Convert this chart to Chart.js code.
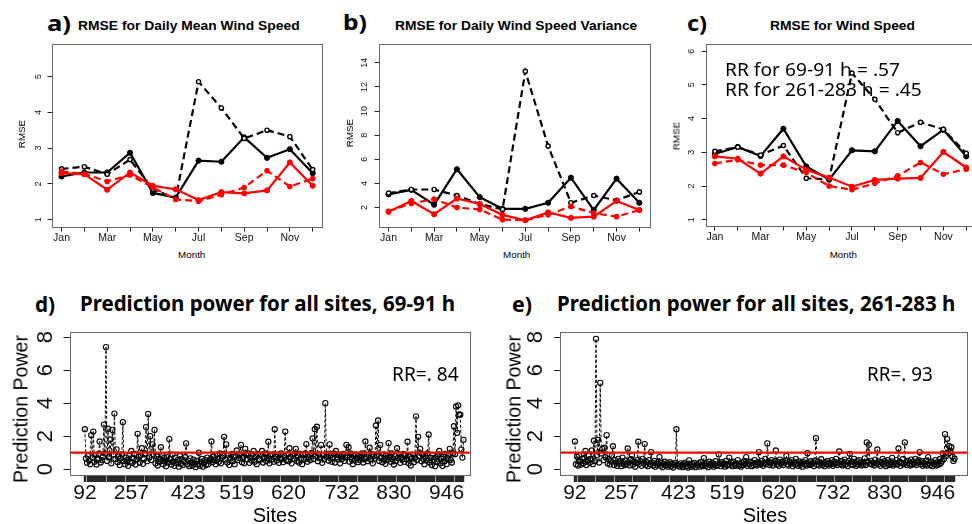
<!DOCTYPE html>
<html><head><meta charset="utf-8">
<script src="https://cdn.jsdelivr.net/npm/chart.js@4.4.1/dist/chart.umd.min.js"></script>
<style>
html,body{margin:0;padding:0;overflow:hidden;background:#fff;width:972px;height:524px;position:relative}
canvas{position:absolute}
.t{position:absolute;white-space:nowrap;line-height:1;color:#000}
</style></head><body>
<script>
// ---------------- DATA ----------------
const months = ['Jan','Feb','Mar','Apr','May','Jun','Jul','Aug','Sep','Oct','Nov','Dec'];
const monthTickLabels = ['Jan','','Mar','','May','','Jul','','Sep','','Nov',''];

// a) RMSE for Daily Mean Wind Speed
const aBlackSolid = [2.21, 2.32, 2.32, 2.87, 1.75, 1.62, 2.65, 2.62, 3.30, 2.73, 2.97, 2.30];
const aBlackDash  = [2.42, 2.48, 2.27, 2.68, 1.85, 1.60, 4.85, 4.12, 3.27, 3.50, 3.32, 2.40];
const aRedSolid   = [2.30, 2.27, 1.84, 2.32, 1.95, 1.85, 1.55, 1.77, 1.74, 1.82, 2.60, 1.95];
const aRedDash    = [2.35, 2.28, 2.07, 2.25, 1.90, 1.57, 1.52, 1.70, 1.90, 2.37, 1.93, 2.15];
const aYTicks = [1, 2, 3, 4, 5];

// b) RMSE for Daily Wind Speed Variance
const bBlackSolid = [3.10, 3.47, 2.24, 5.18, 2.87, 1.90, 1.90, 2.40, 4.48, 1.80, 4.40, 2.40];
const bBlackDash  = [3.20, 3.50, 3.50, 3.00, 2.30, 1.85, 13.30, 7.10, 2.40, 3.00, 2.60, 3.30];
const bRedSolid   = [1.65, 2.55, 1.45, 2.75, 2.30, 1.40, 0.95, 1.60, 1.15, 1.25, 2.55, 1.80];
const bRedDash    = [1.70, 2.35, 2.70, 2.00, 1.85, 1.00, 0.95, 1.40, 2.10, 1.55, 1.25, 1.80];
const bYTicks = [2, 4, 6, 8, 10, 12, 14];

// c) RMSE for Wind Speed
const cBlackSolid = [2.95, 3.16, 2.89, 3.70, 2.58, 2.19, 3.06, 3.03, 3.93, 3.18, 3.67, 2.88];
const cBlackDash  = [3.03, 3.15, 2.92, 3.20, 2.23, 2.20, 5.35, 4.57, 3.58, 3.89, 3.68, 2.97];
const cRedSolid   = [2.88, 2.81, 2.37, 2.88, 2.48, 2.25, 1.98, 2.18, 2.22, 2.24, 3.01, 2.55];
const cRedDash    = [2.67, 2.78, 2.62, 2.62, 2.40, 2.00, 1.89, 2.08, 2.30, 2.70, 2.35, 2.50];
const cYTicks = [1, 2, 3, 4, 5, 6];

// d) Prediction power for all sites, 69-91 h
const ppD = [
 2.42,0.65,0.38,0.80,0.52,0.30,2.06,0.70,2.28,0.45,0.85,0.28,0.60,0.92,1.68,0.40,0.55,0.75,2.70,0.95,
 7.40,0.50,2.45,0.72,1.80,0.35,2.38,0.88,3.37,0.62,1.20,0.42,0.78,0.25,0.66,0.90,2.85,0.48,0.30,0.70,
 0.55,0.20,0.82,0.45,1.10,0.38,0.65,0.92,0.28,0.58,2.14,0.75,0.40,0.85,1.27,0.32,0.62,0.95,2.55,0.48,
 3.35,0.70,2.00,0.55,1.50,0.90,2.38,0.35,0.78,0.22,0.60,0.45,1.33,0.85,0.30,0.68,0.50,0.18,0.72,0.40,
 1.82,0.62,0.28,0.88,0.45,0.20,0.70,0.38,0.55,0.15,0.80,0.32,0.60,0.25,0.48,0.72,1.56,0.30,0.52,0.18,
 0.65,0.40,0.22,0.58,0.35,0.12,0.50,0.28,1.00,0.20,0.45,0.62,0.15,0.38,0.55,0.25,0.70,0.30,0.48,0.60,
 1.68,0.42,0.75,0.55,0.30,0.88,0.62,0.45,0.95,0.35,0.70,0.80,1.96,0.58,1.50,0.40,0.85,0.25,0.65,0.92,
 0.48,0.75,0.30,0.82,1.13,0.55,0.68,0.90,1.47,0.42,0.72,0.35,1.23,0.85,0.60,0.95,0.38,0.70,0.52,0.88,
 1.10,0.45,0.78,0.30,0.92,0.62,0.55,0.85,1.10,0.40,0.72,0.95,0.50,0.68,1.66,0.35,0.80,0.58,0.90,0.45,
 2.42,0.75,0.52,0.88,0.38,0.70,0.95,0.60,0.42,0.82,2.28,0.55,0.90,0.48,1.27,0.72,0.35,0.85,0.62,0.95,
 1.23,0.50,0.78,0.40,0.92,0.65,0.30,0.85,0.58,0.95,1.52,0.45,0.72,0.88,0.55,0.98,1.86,0.62,2.42,0.80,
 2.57,0.48,0.90,0.70,1.47,0.38,0.82,0.60,4.00,0.75,0.92,0.52,1.50,0.85,0.45,0.68,0.95,0.40,1.10,0.72,
 0.58,0.88,0.35,0.78,0.62,0.92,0.50,0.70,1.47,0.85,1.33,0.45,0.95,0.60,0.30,0.80,0.52,0.90,0.68,0.42,
 0.85,0.55,0.75,0.95,0.40,0.62,1.68,0.72,0.48,0.88,1.30,0.58,0.92,0.35,0.78,0.65,2.65,0.80,2.95,0.50,
 1.47,0.70,0.42,0.90,0.60,0.32,0.85,0.55,1.58,0.75,0.45,0.95,0.62,0.28,0.80,0.50,1.27,0.68,0.90,0.38,
 0.72,0.58,0.92,0.45,0.82,0.60,1.66,0.35,0.75,0.22,0.65,0.88,0.42,0.70,3.20,0.55,1.96,0.80,1.23,0.48,
 0.90,0.62,0.30,0.78,0.52,0.95,2.10,0.40,0.68,0.25,0.85,0.55,0.18,0.72,0.45,0.88,1.10,0.35,0.62,0.20,
 0.75,0.48,0.92,0.30,0.65,0.82,1.23,0.55,0.40,0.95,2.60,0.90,3.80,2.20,3.87,3.30,3.30,1.20,0.70,1.78
];
// e) Prediction power for all sites, 261-283 h
const ppE = [
 1.68,0.30,0.75,0.22,0.83,0.45,0.28,0.62,0.35,0.70,1.10,0.25,0.55,0.80,0.38,0.62,1.13,0.30,1.72,0.48,
 7.90,0.85,1.78,0.40,5.23,0.95,1.23,0.55,1.30,0.72,2.06,0.35,0.60,0.28,0.48,0.82,1.39,0.25,0.55,0.38,
 0.20,0.62,0.32,0.48,0.18,0.70,0.35,0.25,0.52,0.30,1.25,0.42,0.22,0.60,0.83,0.28,0.45,0.15,0.38,0.55,
 1.66,0.32,0.48,0.20,0.62,0.35,1.52,0.25,0.42,0.18,0.55,0.30,1.03,0.40,0.22,0.50,0.15,0.35,0.28,0.45,
 0.73,0.20,0.38,0.12,0.30,0.45,0.22,0.35,0.15,0.28,0.42,0.18,0.32,0.10,0.25,0.38,2.42,0.20,0.30,0.15,
 0.35,0.22,0.12,0.28,0.40,0.18,0.30,0.10,0.53,0.25,0.15,0.32,0.20,0.38,0.12,0.28,0.22,0.35,0.15,0.42,
 0.25,0.18,0.67,0.30,0.20,0.35,0.12,0.45,0.28,0.22,0.38,0.15,0.30,0.48,0.20,0.25,0.89,0.32,0.18,0.42,
 0.28,0.35,0.15,0.50,0.22,0.30,0.70,0.25,0.38,0.18,0.45,0.28,0.20,0.35,0.55,0.22,0.30,0.15,0.40,0.25,
 0.48,0.32,0.73,0.20,0.35,0.28,0.45,0.18,0.38,0.25,0.55,0.30,0.22,0.42,1.03,0.35,0.28,0.50,0.20,0.38,
 0.62,0.30,1.56,0.45,0.25,0.40,0.55,0.22,0.35,0.48,1.13,0.28,0.42,0.20,0.58,0.32,0.45,0.25,0.38,0.50,
 0.80,0.30,0.22,0.45,0.35,0.55,0.18,0.40,0.28,0.62,0.32,0.20,0.48,0.25,0.38,0.15,0.42,0.30,0.55,0.22,
 0.97,0.35,0.25,0.48,0.30,0.40,0.18,0.52,1.88,0.28,0.45,0.22,0.38,0.60,0.25,0.35,0.18,0.42,0.30,0.50,
 0.22,0.38,0.28,0.55,0.20,0.45,0.32,0.62,0.25,0.40,1.07,0.30,0.48,0.22,0.35,0.58,0.28,0.42,0.18,0.50,
 0.93,0.30,0.45,0.25,0.62,0.35,0.20,0.48,0.28,0.55,0.38,0.22,0.42,0.30,0.65,0.25,1.62,0.45,1.48,0.32,
 0.50,0.28,0.40,0.22,0.58,0.35,1.19,0.30,0.45,0.20,0.38,0.62,0.28,0.48,0.18,0.35,0.55,0.25,0.42,0.30,
 0.68,0.22,0.40,0.32,0.55,0.28,1.25,0.45,0.20,0.38,0.60,0.30,1.62,0.42,0.25,0.50,0.35,0.22,0.58,0.28,
 0.45,0.32,0.62,0.25,0.40,0.55,1.03,0.30,0.48,0.20,0.38,0.28,0.52,0.22,0.73,0.35,0.25,0.45,0.18,0.40,
 0.30,0.55,0.22,0.42,0.28,0.60,0.35,0.48,0.95,0.62,2.12,0.80,1.82,0.95,1.39,1.10,1.33,0.75,0.50,0.63
];
const siteTickIdx    = [0, 44, 98, 144, 193, 244, 293, 343];
const siteTickLabels = ['92','257','423','519','620','732','830','946'];
const ppYTicks = [0, 2, 4, 6, 8];
const threshold = 1;

// ---------------- HELPERS ----------------
const rPlugin = {
  id: 'rbox',
  afterDraw(chart, args, o) {
    const {ctx, chartArea: a} = chart;
    ctx.save();
    ctx.strokeStyle = o.boxColor || '#666';
    ctx.lineWidth = 1;
    ctx.strokeRect(Math.round(a.left) + 0.5, Math.round(a.top) + 0.5,
                   Math.round(a.right - a.left), Math.round(a.bottom - a.top));
    const ys = chart.scales.y;
    ctx.fillStyle = '#111';
    ctx.font = o.font;
    ctx.textAlign = 'center';
    ctx.textBaseline = 'middle';
    ys.ticks.forEach(t => {
      const y = ys.getPixelForValue(t.value);
      ctx.save();
      ctx.translate(a.left - o.off, y);
      ctx.rotate(-Math.PI / 2);
      ctx.fillText(String(t.value), 0, 0);
      ctx.restore();
    });
    ctx.restore();
  }
};

function buildChart(c) {
  const left = Math.floor(c.box.l - c.leftRoom);
  const top = Math.floor(c.box.t) - 2;
  const wy = c.box.l - left;
  const pt = c.box.t - top;
  const width = Math.round(c.box.r - left) + 1;
  const height = Math.ceil(c.box.b + c.bottomRoom - top);
  const xh = height - (c.box.b - top);
  const cv = document.createElement('canvas');
  cv.width = width; cv.height = height;
  cv.style.left = left + 'px'; cv.style.top = top + 'px';
  cv.style.width = width + 'px'; cv.style.height = height + 'px';
  document.body.appendChild(cv);
  return new Chart(cv.getContext('2d'), {
    type: 'line',
    data: { datasets: c.datasets },
    plugins: [rPlugin],
    options: {
      responsive: false, animation: false, devicePixelRatio: 1, events: [],
      layout: { padding: { top: pt, left: 0, right: 1, bottom: 0 } },
      plugins: { legend: { display: false }, tooltip: { enabled: false },
                 rbox: { font: c.yFont, off: c.yOff } },
      scales: {
        x: {
          type: 'linear', min: c.xMin, max: c.xMax, bounds: 'data',
          afterBuildTicks: s => { s.ticks = c.xTickVals.map(v => ({ value: v })); },
          afterFit: s => { s.height = xh; },
          ticks: { autoSkip: false, maxRotation: 0, minRotation: 0, padding: c.xPad,
                   color: '#111', font: c.xFont, callback: c.xLabelFn },
          grid: { drawOnChartArea: false, drawTicks: true, tickLength: c.xTickLen,
                  tickWidth: c.xTickWidth, tickColor: c.xTickColor },
          border: { display: false }
        },
        y: {
          type: 'linear', min: c.yMin, max: c.yMax, bounds: 'data',
          afterBuildTicks: s => { s.ticks = c.yTicks.map(v => ({ value: v })); },
          afterFit: s => { s.width = wy; },
          ticks: { display: false },
          grid: { drawOnChartArea: false, drawTicks: true, tickLength: c.yTickLen,
                  tickWidth: 1, tickColor: '#222' },
          border: { display: false }
        }
      }
    }
  });
}

function ser(arr, color, dashed) {
  return {
    data: arr.map((v, i) => ({ x: i, y: v })),
    borderColor: color, borderWidth: 2.2, tension: 0,
    borderDash: dashed ? [7, 4] : [],
    pointRadius: dashed ? 2.1 : 2.6,
    pointBackgroundColor: dashed && color === '#000' ? '#fff' : color,
    pointBorderColor: color, pointBorderWidth: dashed ? 1.4 : 1
  };
}

function topPanel(box, xMin, xMax, yMin, yMax, yTicks, yOff, bs, bd, rs, rd) {
  buildChart({
    box, leftRoom: 32, bottomRoom: 20,
    xMin, xMax, xTickVals: months.map((m, i) => i),
    xLabelFn: v => monthTickLabels[v] || '',
    xFont: { family: '"Liberation Sans"', size: 10.5, lineHeight: 1.2 },
    xPad: 0, xTickLen: 4, xTickWidth: 1, xTickColor: '#222',
    yMin, yMax, yTicks, yFont: '9px "Liberation Sans"', yOff, yTickLen: 4,
    datasets: [ser(rd, '#ff0000', true), ser(rs, '#ff0000', false),
               ser(bd, '#000', true), ser(bs, '#000', false)]
  });
}

function ppPanel(box, xMin, xMax, vals) {
  buildChart({
    box, leftRoom: 40, bottomRoom: 34,
    xMin, xMax, xTickVals: vals.map((v, i) => i),
    xLabelFn: v => { const k = siteTickIdx.indexOf(v); return k >= 0 ? siteTickLabels[k] : ''; },
    xFont: { family: '"Liberation Sans"', size: 21, lineHeight: 1.0 },
    xPad: 1, xTickLen: 7, xTickWidth: 1.5, xTickColor: '#2a2a2a',
    yMin: -0.356, yMax: 8.31, yTicks: ppYTicks, yFont: '22px "Liberation Sans"', yOff: 23.8, yTickLen: 6,
    datasets: [
      { data: [{ x: xMin, y: threshold }, { x: xMax, y: threshold }], borderColor: '#ff0000',
        borderWidth: 2.4, pointRadius: 0 },
      { data: vals.map((v, i) => ({ x: i, y: v })), borderColor: '#000', borderWidth: 1,
        borderDash: [3, 2], tension: 0, pointRadius: 2.6, pointBorderWidth: 1.1,
        pointBorderColor: '#000', pointBackgroundColor: 'rgba(0,0,0,0)' }
    ]
  });
}

// ---------------- CHARTS ----------------
topPanel({ l: 51.5, t: 41.5, r: 325.5, b: 227.5 }, -0.44, 11.39, 0.786, 5.892, aYTicks, 12.5,
         aBlackSolid, aBlackDash, aRedSolid, aRedDash);
topPanel({ l: 378.5, t: 41.5, r: 653.5, b: 227.5 }, -0.44, 11.45, 0.35, 15.53, bYTicks, 13.7,
         bBlackSolid, bBlackDash, bRedSolid, bRedDash);
topPanel({ l: 705.5, t: 41.5, r: 980, b: 226.5 }, -0.41, 11.41, 0.80, 6.2, cYTicks, 14,
         cBlackSolid, cBlackDash, cRedSolid, cRedDash);
ppPanel({ l: 69.5, t: 329, r: 473.5, b: 475 }, -14.6, 365.1, ppD);
ppPanel({ l: 560, t: 329, r: 970.5, b: 475 }, -14.06, 370.7, ppE);

// ---------------- TEXT ----------------
const mctx = document.createElement('canvas').getContext('2d');
function addText(s, x, y, font, opt) {
  opt = opt || {};
  const d = document.createElement('div');
  d.className = 't';
  d.textContent = s;
  d.style.font = font;
  d.style.left = x + 'px';
  d.style.top = y + 'px';
  let k = 1;
  if (opt.w) { mctx.font = font; k = opt.w / mctx.measureText(s).width; }
  if (opt.rot) {
    d.style.transform = `translate(-50%,-50%) rotate(-90deg) scaleX(${k})`;
  } else if (opt.center) {
    d.style.transform = `translate(-50%,-50%) scaleX(${k})`;
  } else {
    d.style.transformOrigin = '0 50%';
    d.style.transform = `translate(0,-50%) scaleX(${k})`;
  }
  document.body.appendChild(d);
}
const LET = 'bold 21px "Noto Sans"';
const TIT = 'bold 13.5px "Liberation Sans"';
addText('a)', 46.5, 22.5, LET, { w: 24 });
addText('b)', 343.3, 21.5, LET, { w: 24 });
addText('c)', 686.7, 22.5, LET, { w: 20 });
addText('RMSE for Daily Mean Wind Speed', 78.3, 25, TIT, { w: 221.7 });
addText('RMSE for Daily Wind Speed Variance', 395, 25, TIT, { w: 242.3 });
addText('RMSE for Wind Speed', 770, 25, TIT, { w: 145 });
const AX = '9.8px "Liberation Sans"';
addText('Month', 191.7, 254, AX, { center: true });
addText('Month', 516.7, 254, AX, { center: true });
addText('Month', 843.3, 254, AX, { center: true });
addText('RMSE', 21.2, 134, AX, { rot: true });
addText('RMSE', 349, 133, AX, { rot: true });
addText('RMSE', 675.8, 136, AX, { rot: true });
const ANN = '17.5px "Noto Sans"';
addText('RR for 69-91 h = .57', 725, 69, ANN, { w: 175 });
addText('RR for 261-283 h = .45', 725, 89, ANN, { w: 196.7 });

const LET2 = 'bold 22px "Noto Sans"';
const TIT2 = 'bold 21px "Noto Sans"';
addText('d)', 35, 302.5, LET2, { w: 20 });
addText('Prediction power for all sites, 69-91 h', 80, 303, TIT2, { w: 375 });
addText('e)', 511.7, 302.5, LET2, { w: 20 });
addText('Prediction power for all sites, 261-283 h', 556.7, 303, TIT2, { w: 398.3 });
const RR = '20px "Noto Sans"';
addText('RR=. 84', 391.7, 372.5, RR, { w: 66.7 });
addText('RR=. 93', 867, 372.5, RR, { w: 65.7 });
const AX2 = '20px "Liberation Sans"';
addText('Prediction Power', 20.8, 409, AX2, { rot: true, w: 148 });
addText('Prediction Power', 514.2, 409, AX2, { rot: true, w: 148 });
addText('Sites', 275, 515, AX2, { center: true });
addText('Sites', 765, 515, AX2, { center: true });
</script>
</body></html>
